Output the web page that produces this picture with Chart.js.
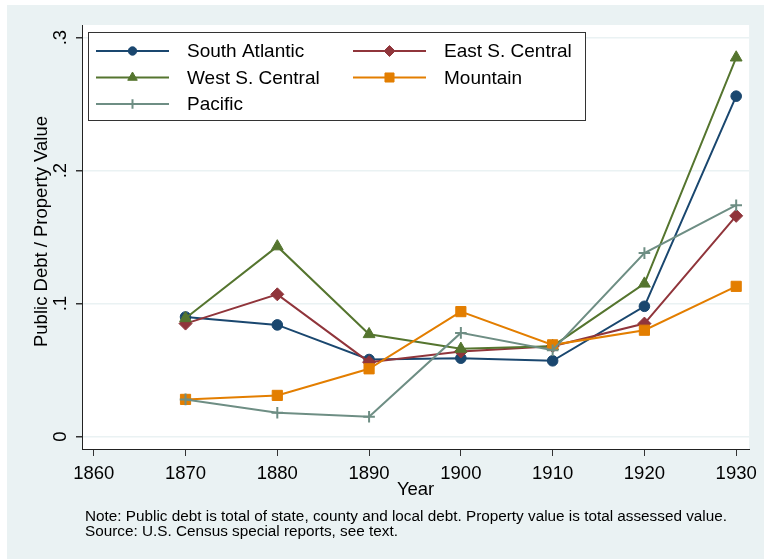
<!DOCTYPE html>
<html><head><meta charset="utf-8">
<script src="https://cdn.jsdelivr.net/npm/chart.js@4"></script>
<style>html,body{margin:0;padding:0;background:#fff}</style>
</head><body>
<canvas id="c" width="764" height="559"></canvas>
<script>
// ---- data ----
const years = [1870, 1880, 1890, 1900, 1910, 1920, 1930];
const southAtlantic = [0.090, 0.084, 0.058, 0.059, 0.057, 0.098, 0.256];
const eastSCentral  = [0.085, 0.107, 0.056, 0.064, 0.068, 0.085, 0.166];
const westSCentral  = [0.089, 0.143, 0.077, 0.066, 0.068, 0.115, 0.285];
const mountain      = [0.028, 0.031, 0.051, 0.094, 0.069, 0.080, 0.113];
const pacific       = [0.028, 0.018, 0.015, 0.078, 0.065, 0.138, 0.174];
const seriesNames = ['South Atlantic', 'East S. Central', 'West S. Central', 'Mountain', 'Pacific'];
const xTicks = [1860, 1870, 1880, 1890, 1900, 1910, 1920, 1930];
const yTicks = [0, 0.1, 0.2, 0.3];
const yTickLabels = ['0', '.1', '.2', '.3'];
const xTitle = 'Year';
const yTitle = 'Public Debt / Property Value';
const noteLines = [
  'Note: Public debt is total of state, county and local debt. Property value is total assessed value.',
  'Source: U.S. Census special reports, see text.'
];

const FONT = "'Liberation Sans', Arial, Helvetica, sans-serif";
Chart.defaults.font.family = FONT;
Chart.defaults.color = '#000';

const toPts = arr => years.map((x, i) => ({x: x, y: arr[i]}));

const styles = [
  {color: '#1A476F', pointStyle: 'circle',   radius: 5.3, legendRadius: 4.2, bw: 1},
  {color: '#90353B', pointStyle: 'rectRot',  radius: 6.5, legendRadius: 5.5, bw: 1},
  {color: '#55752F', pointStyle: 'triangle', radius: 6.8, legendRadius: 5.5, bw: 1},
  {color: '#E37E00', pointStyle: 'rect',     radius: 7.2, legendRadius: 6.4, bw: 1},
  {color: '#6E8E84', pointStyle: 'cross',    radius: 5.8, legendRadius: 4.8, bw: 2}
];
const seriesData = [southAtlantic, eastSCentral, westSCentral, mountain, pacific];

const datasets = seriesData.map((arr, i) => ({
  label: seriesNames[i],
  data: toPts(arr),
  borderColor: styles[i].color,
  backgroundColor: styles[i].color,
  pointBackgroundColor: styles[i].color,
  pointBorderColor: styles[i].color,
  pointBorderWidth: styles[i].bw,
  pointStyle: styles[i].pointStyle,
  pointRadius: styles[i].radius,
  legendRadius: styles[i].legendRadius,
  borderWidth: 2,
  tension: 0,
  fill: false,
  order: 5 - i
}));

const bgPlugin = {
  id: 'bg',
  beforeDraw(chart) {
    const ctx = chart.ctx, a = chart.chartArea;
    ctx.save();
    ctx.fillStyle = '#ffffff';
    ctx.fillRect(0, 0, chart.width, chart.height);
    ctx.fillStyle = '#EAF2F3';
    ctx.fillRect(7, 5, chart.width - 7, chart.height - 5);
    ctx.fillStyle = '#ffffff';
    ctx.fillRect(a.left, a.top, a.right - a.left, a.bottom - a.top);
    ctx.restore();
  }
};

const textPlugin = {
  id: 'texts',
  afterDraw(chart) {
    const ctx = chart.ctx;
    ctx.save();
    // y title
    ctx.translate(41.5, 231.5);
    ctx.rotate(-Math.PI / 2);
    ctx.font = '18.5px ' + FONT;
    ctx.fillStyle = '#000';
    ctx.textAlign = 'center';
    ctx.textBaseline = 'middle';
    ctx.fillText(yTitle, 0, 0);
    ctx.restore();
    // note
    ctx.save();
    ctx.font = '15.3px ' + FONT;
    ctx.fillStyle = '#000';
    ctx.textAlign = 'left';
    ctx.textBaseline = 'alphabetic';
    noteLines.forEach((t, i) => ctx.fillText(t, 85, 521 + i * 15));
    ctx.restore();
  }
};

function drawMarker(ctx, style, r, bw, x, y) {
  if (Chart.helpers && Chart.helpers.drawPoint) {
    Chart.helpers.drawPoint(ctx, {pointStyle: style, radius: r, borderWidth: bw, rotation: 0}, x, y);
  }
}

const legendPlugin = {
  id: 'boxLegend',
  afterDraw(chart) {
    const ctx = chart.ctx;
    ctx.save();
    ctx.fillStyle = '#ffffff';
    ctx.fillRect(88.5, 32.5, 497, 88);
    ctx.strokeStyle = '#333';
    ctx.lineWidth = 1;
    ctx.strokeRect(88.5, 32.5, 497, 88);
    const slots = [[96, 51], [353, 51], [96, 77.5], [353, 77.5], [96, 104]];
    chart.data.datasets.forEach((ds, i) => {
      const x0 = slots[i][0], y = slots[i][1];
      ctx.strokeStyle = ds.borderColor;
      ctx.lineWidth = 2;
      ctx.beginPath(); ctx.moveTo(x0, y); ctx.lineTo(x0 + 73, y); ctx.stroke();
      ctx.fillStyle = ds.pointBackgroundColor;
      ctx.strokeStyle = ds.pointBorderColor;
      ctx.lineWidth = ds.pointBorderWidth;
      drawMarker(ctx, ds.pointStyle, ds.legendRadius, ds.pointBorderWidth, x0 + 36.5, y);
      ctx.fillStyle = '#000';
      ctx.font = '19px ' + FONT;
      ctx.textAlign = 'left';
      ctx.textBaseline = 'middle';
      ctx.fillText(ds.label, x0 + 91, y + 1);
    });
    ctx.restore();
  }
};

new Chart(document.getElementById('c'), {
  type: 'line',
  data: {datasets: datasets},
  plugins: [bgPlugin, textPlugin, legendPlugin],
  options: {
    responsive: false,
    animation: false,
    devicePixelRatio: 1,
    layout: {padding: {top: 25, right: 12, left: 0, bottom: 0}},
    plugins: {legend: {display: false}, tooltip: {enabled: false}},
    scales: {
      x: {
        type: 'linear',
        min: 1858.72,
        max: 1931.41,
        afterBuildTicks: s => { s.ticks = xTicks.map(v => ({value: v})); },
        afterFit: s => { s.height = 110; },
        ticks: {
          autoSkip: false, maxRotation: 0, minRotation: 0, padding: 7,
          font: {size: 18.5}, color: '#000',
          callback: v => String(v)
        },
        grid: {drawOnChartArea: false, drawTicks: true, tickLength: 7, tickColor: '#333', lineWidth: 1},
        border: {color: '#222', width: 1},
        title: {display: true, text: xTitle, font: {size: 18.5}, color: '#000', padding: {top: 0, bottom: 57.9}}
      },
      y: {
        type: 'linear',
        min: -0.0093,
        max: 0.3095,
        afterBuildTicks: s => { s.ticks = yTicks.map(v => ({value: v})); },
        afterFit: s => { s.width = 82; },
        ticks: {
          autoSkip: false, minRotation: 90, maxRotation: 90, crossAlign: 'center', padding: 7,
          font: {size: 18.5}, color: '#000',
          callback: (v) => { const k = yTicks.findIndex(t => Math.abs(t - v) < 1e-9); return k >= 0 ? yTickLabels[k] : ''; }
        },
        grid: {color: '#EAF2F3', lineWidth: 1.5, tickColor: '#333', tickLength: 6, drawTicks: true},
        border: {color: '#222', width: 1}
      }
    }
  }
});
</script>
</body></html>
